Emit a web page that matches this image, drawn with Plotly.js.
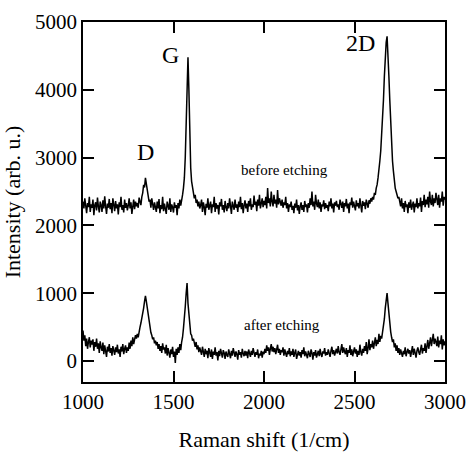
<!DOCTYPE html>
<html>
<head>
<meta charset="utf-8">
<script src="https://cdn.plot.ly/plotly-3.0.1.min.js"></script>
<style>html,body{margin:0;padding:0;background:#fff;font-family:"Liberation Serif";}#chart{width:468px;height:453px;}</style>
</head>
<body>
<div id="chart"></div>
<script>
// Raman shift grid (1/cm): 1000 to 3000 in steps of 5
const shiftStart = 1000;
const shiftStep = 5;

// Intensity before etching (arb. u.), one value per grid point
const beforeEtching = [
2350,2250,2400,2300,2180,2330,2270,2420,2200,2310,
2260,2380,2150,2300,2340,2220,2410,2280,2190,2350,
2300,2200,2370,2250,2430,2280,2170,2320,2260,2390,
2240,2330,2180,2400,2290,2210,2360,2250,2310,2160,
2340,2270,2420,2230,2300,2190,2380,2260,2330,2220,
2290,2400,2250,2340,2170,2310,2380,2240,2350,2280,
2330,2260,2410,2350,2300,2420,2480,2600,2560,2700,
2620,2500,2430,2350,2380,2260,2400,2310,2230,2340,
2280,2200,2350,2250,2390,2180,2300,2240,2420,2210,
2320,2260,2170,2350,2290,2230,2400,2200,2310,2270,
2190,2340,2260,2300,2150,2330,2250,2380,2290,2420,
2450,2550,2700,3000,3500,4200,4480,4000,3300,2850,
2650,2550,2480,2400,2450,2330,2380,2280,2350,2250,
2300,2380,2200,2340,2270,2150,2320,2260,2400,2230,
2290,2350,2180,2310,2270,2420,2200,2330,2250,2300,
2160,2340,2280,2390,2230,2300,2190,2360,2270,2210,
2330,2250,2400,2280,2170,2350,2300,2230,2380,2260,
2310,2200,2350,2270,2420,2240,2330,2180,2300,2370,
2250,2320,2200,2360,2280,2400,2230,2310,2270,2440,
2300,2350,2210,2380,2290,2450,2250,2330,2400,2270,
2360,2300,2420,2250,2550,2330,2400,2280,2500,2350,
2280,2450,2320,2380,2260,2520,2310,2400,2340,2290,
2380,2260,2340,2300,2420,2250,2330,2200,2310,2270,
2350,2230,2290,2180,2320,2260,2380,2220,2300,2170,
2280,2340,2230,2300,2200,2360,2270,2310,2190,2330,
2260,2400,2300,2500,2280,2350,2230,2450,2320,2270,
2380,2250,2340,2200,2310,2280,2370,2240,2330,2260,
2300,2210,2350,2280,2400,2250,2320,2190,2340,2290,
2360,2270,2310,2230,2380,2300,2260,2350,2200,2330,
2280,2390,2250,2320,2180,2340,2300,2410,2260,2350,
2300,2220,2370,2280,2330,2250,2400,2310,2190,2360,
2290,2340,2240,2380,2300,2260,2370,2320,2400,2350,
2420,2380,2480,2450,2550,2600,2700,2800,2950,3100,
3300,3550,3850,4200,4500,4700,4790,4550,4200,3850,
3500,3200,2950,2800,2650,2550,2500,2450,2400,2420,
2350,2280,2400,2250,2330,2200,2360,2270,2310,2180,
2340,2260,2380,2230,2300,2350,2190,2320,2270,2400,
2250,2330,2280,2410,2200,2360,2300,2450,2270,2380,
2310,2420,2260,2500,2350,2300,2450,2280,2400,2330,
2480,2370,2300,2450,2260,2400,2350,2500,2290,2420,
2380
];

// Intensity after etching (arb. u.), one value per grid point
const afterEtching = [
450,300,380,220,330,180,280,350,200,300,
240,320,150,280,210,330,180,260,120,290,
200,150,270,100,230,170,60,210,140,250,
120,190,80,220,150,90,200,130,240,110,
170,60,210,140,250,100,180,230,120,200,
150,270,180,300,220,350,250,310,380,330,
400,350,450,500,560,620,700,780,880,960,
880,780,650,560,480,420,380,320,350,260,
300,230,280,180,250,150,220,120,260,170,
200,110,240,80,190,130,50,170,100,210,
60,140,-30,180,90,200,120,250,160,280,
350,480,600,800,1000,1150,850,650,500,400,
380,300,330,250,210,280,170,230,130,200,
160,90,210,120,60,180,100,150,40,190,
110,60,170,30,140,90,200,80,130,10,
150,70,180,100,50,160,120,30,140,90,
60,170,100,40,150,80,190,120,60,140,
100,20,160,90,130,50,180,110,70,150,
80,140,40,170,100,60,150,90,190,120,
60,130,90,170,40,110,80,150,50,140,
100,180,120,230,150,200,90,180,250,140,
210,130,190,100,170,240,120,180,90,160,
130,200,80,170,110,60,150,100,190,70,
140,90,180,60,120,170,30,110,150,80,
130,50,160,100,200,70,140,90,40,150,
110,60,170,120,20,130,80,160,50,110,
150,70,180,100,60,140,110,190,80,130,
90,170,120,60,150,210,100,160,80,140,
180,110,220,130,90,170,250,120,200,140,
100,190,60,160,120,230,90,170,70,140,
200,110,170,60,150,90,240,130,80,180,
120,220,150,280,100,190,320,160,250,200,
300,180,260,350,220,310,250,400,280,370,
330,420,500,620,780,900,1000,850,680,520,
430,350,280,320,200,260,150,230,120,190,
90,170,110,60,150,100,200,70,130,180,
110,160,60,140,220,90,180,120,50,150,
200,130,90,170,240,110,190,150,260,120,
200,310,180,260,350,220,290,400,250,330,
280,220,360,200,300,250,380,170,320,230,
290
];

// Peak labels and series labels
const peakLabels = ["D", "G", "2D"];
const peakLabelX = [1343, 1481, 2534];
const peakLabelY = [3083, 4513, 4695];
const seriesLabels = ["before etching", "after etching"];
const seriesLabelX = [2113, 2097];
const seriesLabelY = [2817, 531];

const shifts = beforeEtching.map((_, i) => shiftStart + i * shiftStep);
const fam = "Liberation Serif";

const traces = [
  {x: shifts, y: beforeEtching, type: "scatter", mode: "lines", line: {color: "#000", width: 1.5}},
  {x: shifts, y: afterEtching, type: "scatter", mode: "lines", line: {color: "#000", width: 1.5}}
];

const annotations = [];
peakLabels.forEach((t, i) => annotations.push({
  x: peakLabelX[i], y: peakLabelY[i], text: t, showarrow: false,
  font: {family: fam, size: 24}
}));
seriesLabels.forEach((t, i) => annotations.push({
  x: seriesLabelX[i], y: seriesLabelY[i], text: t, showarrow: false,
  font: {family: fam, size: 15}
}));

const layout = {
  width: 468, height: 453,
  margin: {l: 83, r: 23, t: 22, b: 71},
  showlegend: false,
  font: {family: fam, size: 21, color: "#000"},
  xaxis: {
    range: [1000, 3000], dtick: 500,
    ticks: "inside", ticklen: 11, tickwidth: 1.5, tickcolor: "#000",
    showline: true, linecolor: "#000", linewidth: 1.5, mirror: "ticks",
    showgrid: false, zeroline: false,
    title: {text: "Raman shift (1/cm)", font: {family: fam, size: 22}, standoff: 19}
  },
  yaxis: {
    range: [-310, 5000], dtick: 1000,
    ticks: "inside", ticklen: 11, tickwidth: 1.5, tickcolor: "#000",
    showline: true, linecolor: "#000", linewidth: 1.5, mirror: "ticks",
    showgrid: false, zeroline: false,
    title: {text: "Intensity (arb. u.)", font: {family: fam, size: 22}, standoff: 8}
  },
  annotations: annotations
};

function draw() {
  Plotly.newPlot("chart", traces, layout, {displayModeBar: false});
}
if (document.fonts && document.fonts.load) {
  Promise.all([
    document.fonts.load('21px "Liberation Serif"'),
    document.fonts.load('24px "Liberation Serif"')
  ]).then(draw, draw);
} else {
  draw();
}
</script>
</body>
</html>
